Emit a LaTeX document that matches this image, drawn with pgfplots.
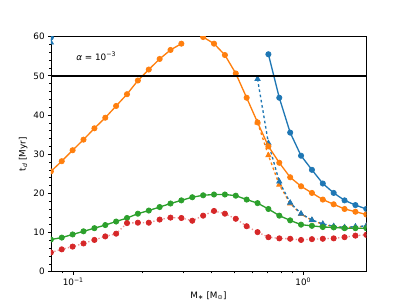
\documentclass[border=0pt]{standalone}
\usepackage{fontspec}
\setmainfont{DejaVu Sans}
\usepackage{pgfplots}
\usepackage{pgfplotstable}
\pgfplotsset{compat=1.18}
\definecolor{tabblue}{HTML}{1F77B4}
\definecolor{taborange}{HTML}{FF7F0E}
\definecolor{tabgreen}{HTML}{2CA02C}
\definecolor{tabred}{HTML}{D62728}
\pgfplotstableread{
x bc bt oc ot g r
0.0800 59.8 58.5 25.6 nan 8.2 4.9
0.0892 nan nan 28.2 nan 8.7 5.7
0.09945 nan nan 31.0 nan 9.5 6.4
0.1109 nan nan 33.7 nan 10.3 7.2
0.1237 nan nan 36.6 nan 11.1 8.1
0.1379 nan nan 39.3 nan 11.9 9.0
0.1537 nan nan 42.3 nan 12.8 9.7
0.1714 nan nan 45.3 nan 13.7 12.4
0.1911 nan nan 48.8 nan 14.8 12.5
0.2131 nan nan 51.6 nan 15.6 12.5
0.2376 nan nan 54.3 nan 16.5 13.3
0.2649 nan nan 56.6 nan 17.4 13.8
0.2953 nan nan 58.2 nan 18.2 13.7
0.3293 nan nan nan nan 19.0 13.0
0.3672 nan nan 59.9 nan 19.5 14.3
0.4094 nan nan 58.2 nan 19.7 15.5
0.4565 nan nan 55.3 nan 19.7 14.8
0.5089 nan nan 50.6 nan 19.4 13.5
0.5675 nan nan 44.4 nan 18.4 11.6
0.6328 nan 49.2 38.1 38.1 17.5 10.1
0.7056 55.5 32.8 32.0 29.7 16.0 8.8
0.7867 44.4 23.0 27.8 22.2 14.3 8.5
0.8772 35.5 17.6 24.1 17.4 13.1 8.4
0.9779 29.6 14.8 21.8 14.7 12.0 8.1
1.0905 26.0 13.2 20.1 13.1 11.7 8.3
1.2159 22.5 12.2 18.4 12.1 11.4 8.4
1.3557 20.1 11.6 17.2 11.5 11.3 8.5
1.5116 18.2 11.3 16.0 11.3 11.1 8.8
1.6855 17.0 11.5 15.3 11.4 11.1 9.2
1.8793 16.0 11.7 14.6 11.6 11.1 9.4
}\datatable
\begin{document}
\begin{tikzpicture}
\path (0,0) rectangle (460.8pt,345.6pt);
\begin{axis}[
  at={(57.6pt,38.02pt)}, anchor=south west,
  scale only axis, width=357.12pt, height=266.11pt,
  xmode=log, xmin=0.08, xmax=1.8793, ymin=0, ymax=60,
  xtick={0.1,1}, xticklabels={{10\textsuperscript{−1}},{10\textsuperscript{0}}},
  minor xtick={0.09,0.2,0.3,0.4,0.5,0.6,0.7,0.8,0.9},
  ytick={0,10,20,30,40,50,60}, minor y tick num=4,
  tick align=outside, major tick length=3.5pt, minor tick length=2pt,
  every tick/.style={black, line width=0.8pt},
  every minor tick/.style={black, line width=0.6pt},
  axis line style={line width=0.8pt},
  xtick pos=bottom, ytick pos=left,
  /pgf/number format/assume math mode=true,
  xlabel={M\textsubscript{∗} [M\textsubscript{⊙}]},
  ylabel={t\textsubscript{\itshape d} [Myr]},
  unbounded coords=jump, clip marker paths=true,
]
\addplot[taborange, line width=1.5pt, dashed, mark=triangle*, mark size=3.4pt, mark options={solid, line width=0.8pt}] table[x=x, y=ot] {\datatable};
\addplot[tabblue, line width=1.5pt, mark=*, mark size=3pt, mark options={solid, line width=0.8pt}] table[x=x, y=bc] {\datatable};
\addplot[tabblue, line width=1.5pt, dashed, mark=triangle*, mark size=3.4pt, mark options={solid, line width=0.8pt}] table[x=x, y=bt] {\datatable};
\addplot[taborange, line width=1.5pt, mark=*, mark size=3pt, mark options={solid, line width=0.8pt}] table[x=x, y=oc] {\datatable};
\addplot[tabgreen, line width=1.5pt, mark=*, mark size=3pt, mark options={solid, line width=0.8pt}] table[x=x, y=g] {\datatable};
\addplot[tabred!50, line width=1.5pt, dash pattern=on 1.5pt off 2.5pt, mark=*, mark size=3pt, mark options={solid, line width=0.8pt, draw=tabred, fill=tabred}] table[x=x, y=r] {\datatable};
\addplot[black, line width=1.6pt, forget plot] coordinates {(0.08,50) (1.8793,50)};
\node[anchor=base west] at (axis cs:0.1,54) {{\itshape α} = 10\textsuperscript{−3}};
\end{axis}
\end{tikzpicture}
\end{document}
